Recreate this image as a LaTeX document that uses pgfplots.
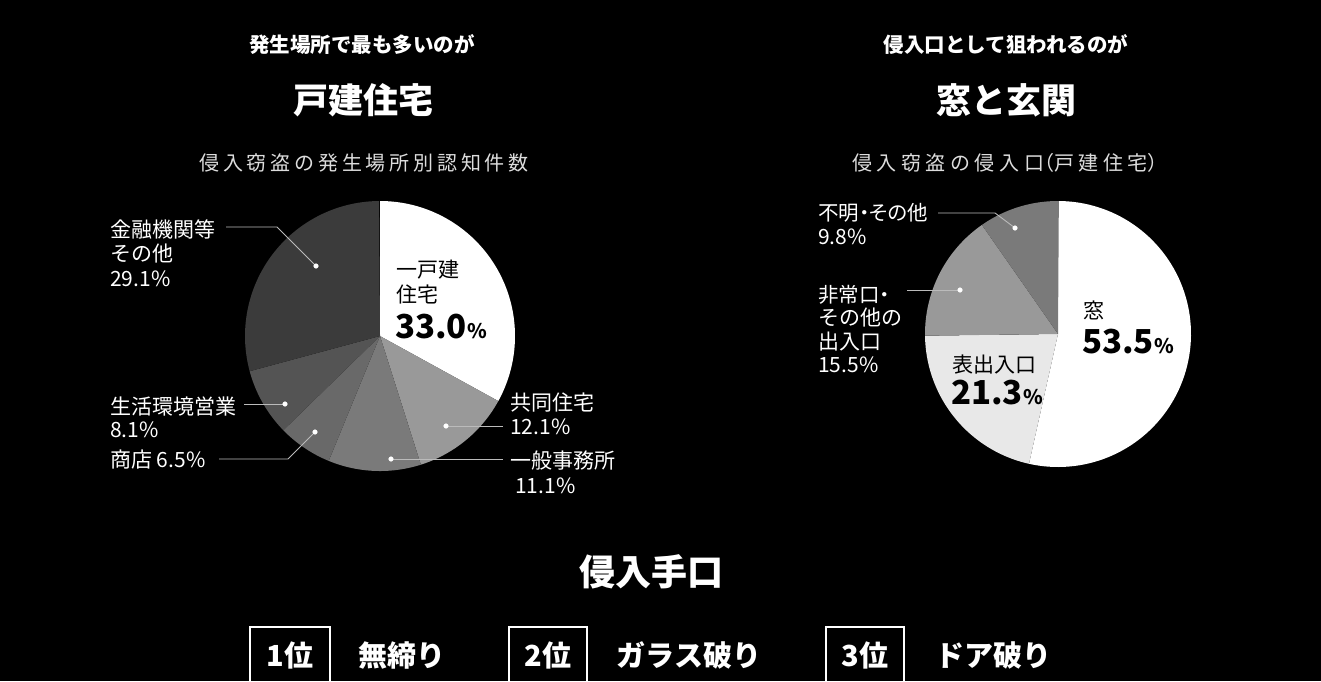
\documentclass[border=0pt]{standalone}
\usepackage{pgfplots}
\pgfplotsset{compat=1.18}
\usepackage{fontspec}
\setmainfont{Noto Sans CJK JP}
\newfontfamily\spaced[LetterSpace=19]{Noto Sans CJK JP}
\newfontfamily\spacedb[LetterSpace=23]{Noto Sans CJK JP}
\newfontfamily\prop[RawFeature=+palt]{Noto Sans CJK JP}
\newcommand{\fs}[1]{\fontsize{#1}{#1}\selectfont}
\definecolor{lineg}{HTML}{BBBBBB}
\definecolor{subg}{HTML}{DDDDDD}
% #1 cx, #2 cy, #3 r, #4 cumulative % before, #5 value %, #6 colour
\newcommand{\pieslice}[6]{%
  \pgfmathsetmacro\sa{90-3.6*(#4)}%
  \pgfmathsetmacro\sb{90-3.6*(#4+#5)}%
  \addplot[fill=#6, draw=none, domain=\sa:\sb, samples=90, variable=\t]
    ({#1+#3*cos(\t)}, {#2-#3*sin(\t)}) -- (axis cs:#1,#2) -- cycle;
}
\tikzset{
  lbl/.style={anchor=west, inner sep=0pt, text=white, font=\fs{21}},
  lblk/.style={anchor=west, inner sep=0pt, text=black, font=\fs{21}},
  ttl/.style={anchor=center, inner sep=0pt, text=white}}
\begin{document}
\begin{tikzpicture}
\fill[black] (0,0) rectangle (1321pt,681pt);
\begin{axis}[at={(0,0)}, anchor=south west, width=1321pt, height=681pt,
  scale only axis, xmin=0, xmax=1321, ymin=0, ymax=681, y dir=reverse,
  hide axis, clip=false]
% ---- left pie: 侵入窃盗の発生場所別認知件数 ----
\pieslice{380}{336}{135}{0}{33.0}{white}
\pieslice{380}{336}{135}{33.0}{12.1}{black!40}
\pieslice{380}{336}{135}{45.1}{11.1}{black!52}
\pieslice{380}{336}{135}{56.2}{6.5}{black!59}
\pieslice{380}{336}{135}{62.7}{8.1}{black!67}
\pieslice{380}{336}{135}{70.8}{29.1}{black!77}
% ---- right pie: 侵入口（戸建住宅） ----
\pieslice{1058}{334}{133}{0}{53.5}{white}
\pieslice{1058}{334}{133}{53.5}{21.3}{black!9}
\pieslice{1058}{334}{133}{74.8}{15.5}{black!40}
\pieslice{1058}{334}{133}{90.3}{9.8}{black!52}
% leader lines
\draw[lineg, line width=0.9pt] (axis cs:226,227) -- (axis cs:277,227) -- (axis cs:316,266);
\draw[lineg, line width=0.9pt] (axis cs:244,404) -- (axis cs:285,404);
\draw[lineg, line width=0.9pt] (axis cs:219,459) -- (axis cs:288,459) -- (axis cs:315,432);
\draw[lineg, line width=0.9pt] (axis cs:446,426) -- (axis cs:503,426);
\draw[lineg, line width=0.9pt] (axis cs:391,459) -- (axis cs:503,459);
\draw[lineg, line width=0.9pt] (axis cs:938,213) -- (axis cs:995,213) -- (axis cs:1015,228);
\draw[lineg, line width=0.9pt] (axis cs:907,290) -- (axis cs:960,290);
\addplot[only marks, mark=*, mark size=2.3pt, white] coordinates
  {(316,266) (285,404) (315,432) (446,426) (391,459) (1015,228) (960,290)};
% left labels
\node[lbl] at (axis cs:110,229) {金融機関等};
\node[lbl] at (axis cs:110,254) {その他};
\node[lbl] at (axis cs:110,279) {29.1\%};
\node[lbl] at (axis cs:110,406) {生活環境営業};
\node[lbl] at (axis cs:110,430) {8.1\%};
\node[lbl] at (axis cs:110,460) {商店 6.5\%};
\node[lbl] at (axis cs:510,403) {共同住宅};
\node[lbl] at (axis cs:510,427) {12.1\%};
\node[lbl] at (axis cs:510,461) {一般事務所};
\node[lbl] at (axis cs:515,486) {11.1\%};
\node[lblk] at (axis cs:396,270) {一戸建};
\node[lblk] at (axis cs:396,294) {住宅};
\node[lblk, font=\bfseries\fs{33}] at (axis cs:395,327) {33.0{\fs{20}\%}};
% right labels
\node[lbl, font=\prop\fs{20.5}] at (axis cs:818,213) {不明・その他};
\node[lbl] at (axis cs:818,237) {9.8\%};
\node[lbl, font=\prop\fs{20.5}] at (axis cs:818,295) {非常口・};
\node[lbl] at (axis cs:818,318) {その他の};
\node[lbl] at (axis cs:818,342) {出入口};
\node[lbl] at (axis cs:818,365) {15.5\%};
\node[lblk] at (axis cs:1083,310) {窓};
\node[lblk, font=\bfseries\fs{33}] at (axis cs:1082,342) {53.5{\fs{20}\%}};
\node[lblk] at (axis cs:952,365) {表出入口};
\node[lblk, font=\bfseries\fs{33}] at (axis cs:951,393) {21.3{\fs{20}\%}};
% titles
\node[ttl, font=\bfseries\fs{20.5}] at (axis cs:362,45) {発生場所で最も多いのが};
\node[ttl, font=\bfseries\fs{35}] at (axis cs:363,100) {戸建住宅};
\node[ttl, text=subg, font=\spaced\fs{20}] at (axis cs:364,163) {侵入窃盗の発生場所別認知件数};
\node[ttl, font=\bfseries\fs{20.5}] at (axis cs:1006,45) {侵入口として狙われるのが};
\node[ttl, font=\bfseries\fs{35}] at (axis cs:1006,100) {窓と玄関};
\node[ttl, text=subg, font=\spacedb\fs{20}] at (axis cs:1005,163) {侵入窃盗の侵入口{\prop（}戸建住宅{\prop）}};
% bottom: 侵入手口
\node[ttl, font=\bfseries\fs{36}] at (axis cs:651,572) {侵入手口};
\draw[white, line width=1.3pt] (axis cs:250,627) rectangle (axis cs:330,700);
\draw[white, line width=1.3pt] (axis cs:509,627) rectangle (axis cs:587,700);
\draw[white, line width=1.3pt] (axis cs:826,627) rectangle (axis cs:904,700);
\node[ttl, font=\bfseries\fs{29}] at (axis cs:290,655) {1位};
\node[ttl, font=\bfseries\fs{29}] at (axis cs:402,655) {無締り};
\node[ttl, font=\bfseries\fs{29}] at (axis cs:548,655) {2位};
\node[ttl, font=\bfseries\fs{29}] at (axis cs:689,655) {ガラス破り};
\node[ttl, font=\bfseries\fs{29}] at (axis cs:865,655) {3位};
\node[ttl, font=\bfseries\fs{29}] at (axis cs:993,655) {ドア破り};
\end{axis}
\pgfresetboundingbox
\path[use as bounding box] (0,0) rectangle (1321pt,681pt);
\end{tikzpicture}
\end{document}
